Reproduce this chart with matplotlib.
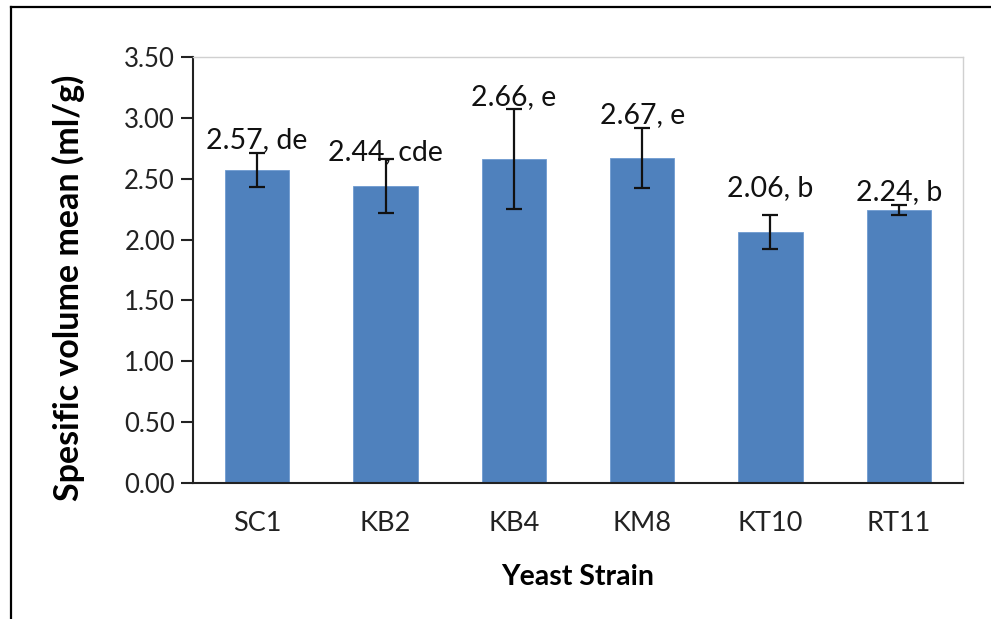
import matplotlib.pyplot as plt
from matplotlib.lines import Line2D
import numpy as np

# données
strains = ['SC1', 'KB2', 'KB4', 'KM8', 'KT10', 'RT11']
means = [2.57, 2.44, 2.66, 2.67, 2.06, 2.24]
errors = [0.14, 0.225, 0.41, 0.25, 0.14, 0.04]
letters = ['de', 'cde', 'e', 'e', 'b', 'b']
label_y = [2.82, 2.72, 3.17, 3.02, 2.42, 2.39]
yticks = [0.0, 0.5, 1.0, 1.5, 2.0, 2.5, 3.0, 3.5]

plt.rcParams['font.family'] = ['Lato', 'DejaVu Sans']

fig = plt.figure(figsize=(9.91, 6.19), dpi=100)
ax = fig.add_axes([193/991, 1-483/619, (963-193)/991, (483-57)/619])

x = np.arange(len(strains)) + 0.5
ax.bar(x, means, width=0.5, color='#4F81BD', edgecolor='#6E9BD0', linewidth=0.6,
       yerr=errors, capsize=6, error_kw=dict(elinewidth=1.6, capthick=1.6, ecolor='#111111'))

for xi, m, l, yl in zip(x, means, letters, label_y):
    ax.text(xi, yl, f'{m:.2f}, {l}', ha='center', va='center', fontsize=20.5, color='#111111')

ax.set_xlim(0, 6)
ax.set_ylim(0, 3.5)
ax.set_yticks(yticks)
ax.set_yticklabels([f'{v:.2f}' for v in yticks])
ax.set_xticks(x)
ax.set_xticklabels(strains)
ax.tick_params(axis='y', length=9, width=1.5, pad=4, labelsize=18.5, colors='#222222')
ax.tick_params(axis='x', length=0, pad=20, labelsize=19.5, colors='#222222')

for s in ['top', 'right']:
    ax.spines[s].set_color('#D0D0D0')
    ax.spines[s].set_linewidth(1.0)
for s in ['left', 'bottom']:
    ax.spines[s].set_color('#222222')
    ax.spines[s].set_linewidth(1.5)

ax.set_xlabel('Yeast Strain', fontsize=20.5, fontweight='bold', labelpad=20)
ax.set_ylabel('Spesific volume mean (ml/g)', fontsize=24.5, fontweight='bold', labelpad=28, y=0.458)

# cadre extérieur
fig.add_artist(Line2D([11/991, 11/991], [0, 1-7/619], color='black', lw=1.6, transform=fig.transFigure))
fig.add_artist(Line2D([11/991, 1], [1-7/619, 1-7/619], color='black', lw=1.6, transform=fig.transFigure))

fig.savefig('out.png', dpi=100)
